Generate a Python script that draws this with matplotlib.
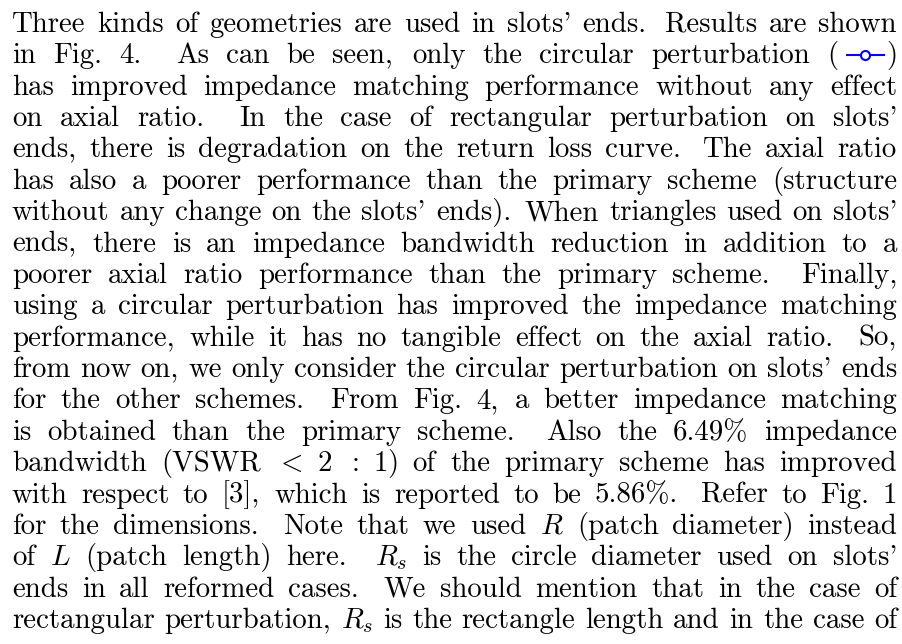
import matplotlib.pyplot as plt
from matplotlib.lines import Line2D

plt.rcParams['font.family'] = 'cmr10'
plt.rcParams['mathtext.fontset'] = 'cm'
plt.rcParams['axes.unicode_minus'] = False

# paragraph, one entry per typeset line ("(@)" = the blue legend marker)
lines = [
    "Three kinds of geometries are used in slots' ends. Results are shown",
    "in Fig. 4. As can be seen, only the circular perturbation (@)",
    "has improved impedance matching performance without any effect",
    "on axial ratio. In the case of rectangular perturbation on slots'",
    "ends, there is degradation on the return loss curve. The axial ratio",
    "has also a poorer performance than the primary scheme (structure",
    "without any change on the slots' ends). When triangles used on slots'",
    "ends, there is an impedance bandwidth reduction in addition to a",
    "poorer axial ratio performance than the primary scheme. Finally,",
    "using a circular perturbation has improved the impedance matching",
    "performance, while it has no tangible effect on the axial ratio. So,",
    "from now on, we only consider the circular perturbation on slots' ends",
    "for the other schemes. From Fig. 4, a better impedance matching",
    "is obtained than the primary scheme. Also the 6.49% impedance",
    "bandwidth (VSWR $<$ $2$ $:$ $1$) of the primary scheme has improved",
    "with respect to [3], which is reported to be 5.86%. Refer to Fig. 1",
    "for the dimensions. Note that we used $R$ (patch diameter) instead",
    "of $L$ (patch length) here. $R_s$ is the circle diameter used on slots'",
    "ends in all reformed cases. We should mention that in the case of",
    "rectangular perturbation, $R_s$ is the rectangle length and in the case of",
]

W, H = 902, 644
fs = 20.8
em = fs * 100 / 72
x_left, x_right = 12, 897
y_first, pitch = 32, 31.37
marker_color = '#0000ff'

fig = plt.figure(figsize=(W / 100, H / 100), dpi=100)
renderer = fig.canvas.get_renderer()


def space_factor(word):
    if word.endswith('$'):
        return 1000
    w = word.rstrip(")']")
    if w == 'Fig.' or not w:
        return 1000
    c = w[-1]
    if c in '.?!':
        if len(w) > 1 and w[-2].isupper():
            return 999
        return 3000
    if c == ',':
        return 1250
    if c == ';':
        return 1500
    return 1000


def glue(sf):
    nat = 0.3333 * em + (0.1111 * em if sf >= 2000 else 0)
    st = 0.1667 * em * sf / 1000
    sh = 0.1111 * em * 1000 / sf
    return nat, st, sh


for i, line in enumerate(lines):
    yb = y_first + i * pitch
    yf = 1 - yb / H
    words = line.split(' ')
    items = []
    for w in words:
        if w == '(@)':
            t1 = fig.text(0, yf, '(', fontsize=fs, va='baseline')
            t2 = fig.text(0, yf, ')', fontsize=fs, va='baseline')
            w1 = t1.get_window_extent(renderer).width
            w2 = t2.get_window_extent(renderer).width
            items.append(('mark', (t1, t2, w1, w2), w1 + 9 + 37 + 2 + w2))
        else:
            t = fig.text(0, yf, w, fontsize=fs, va='baseline')
            items.append(('text', t, t.get_window_extent(renderer).width))
    glues = [glue(space_factor(w)) for w in words[:-1]]
    total = sum(it[2] for it in items)
    nat = sum(g[0] for g in glues)
    slack = (x_right - x_left) - total - nat
    if slack >= 0:
        r = slack / sum(g[1] for g in glues)
        gaps = [g[0] + r * g[1] for g in glues]
    else:
        r = slack / sum(g[2] for g in glues)
        gaps = [g[0] + r * g[2] for g in glues]
    x = x_left
    for k, (kind, obj, wd) in enumerate(items):
        if kind == 'text':
            obj.set_x(x / W)
        else:
            t1, t2, w1, w2 = obj
            t1.set_x(x / W)
            lx0 = x + w1 + 9
            lx1 = lx0 + 37
            ym = 1 - (yb - 8) / H
            fig.add_artist(Line2D([lx0 / W, lx1 / W], [ym, ym], transform=fig.transFigure,
                                  color=marker_color, lw=1.5))
            fig.add_artist(Line2D([(lx0 + lx1) / 2 / W], [ym], transform=fig.transFigure,
                                  color=marker_color, marker='o', markersize=6.5,
                                  markerfacecolor='white', markeredgewidth=1.5))
            t2.set_x((lx1 + 2) / W)
        if k < len(gaps):
            x += wd + gaps[k]

fig.savefig('out.png', dpi=100)
